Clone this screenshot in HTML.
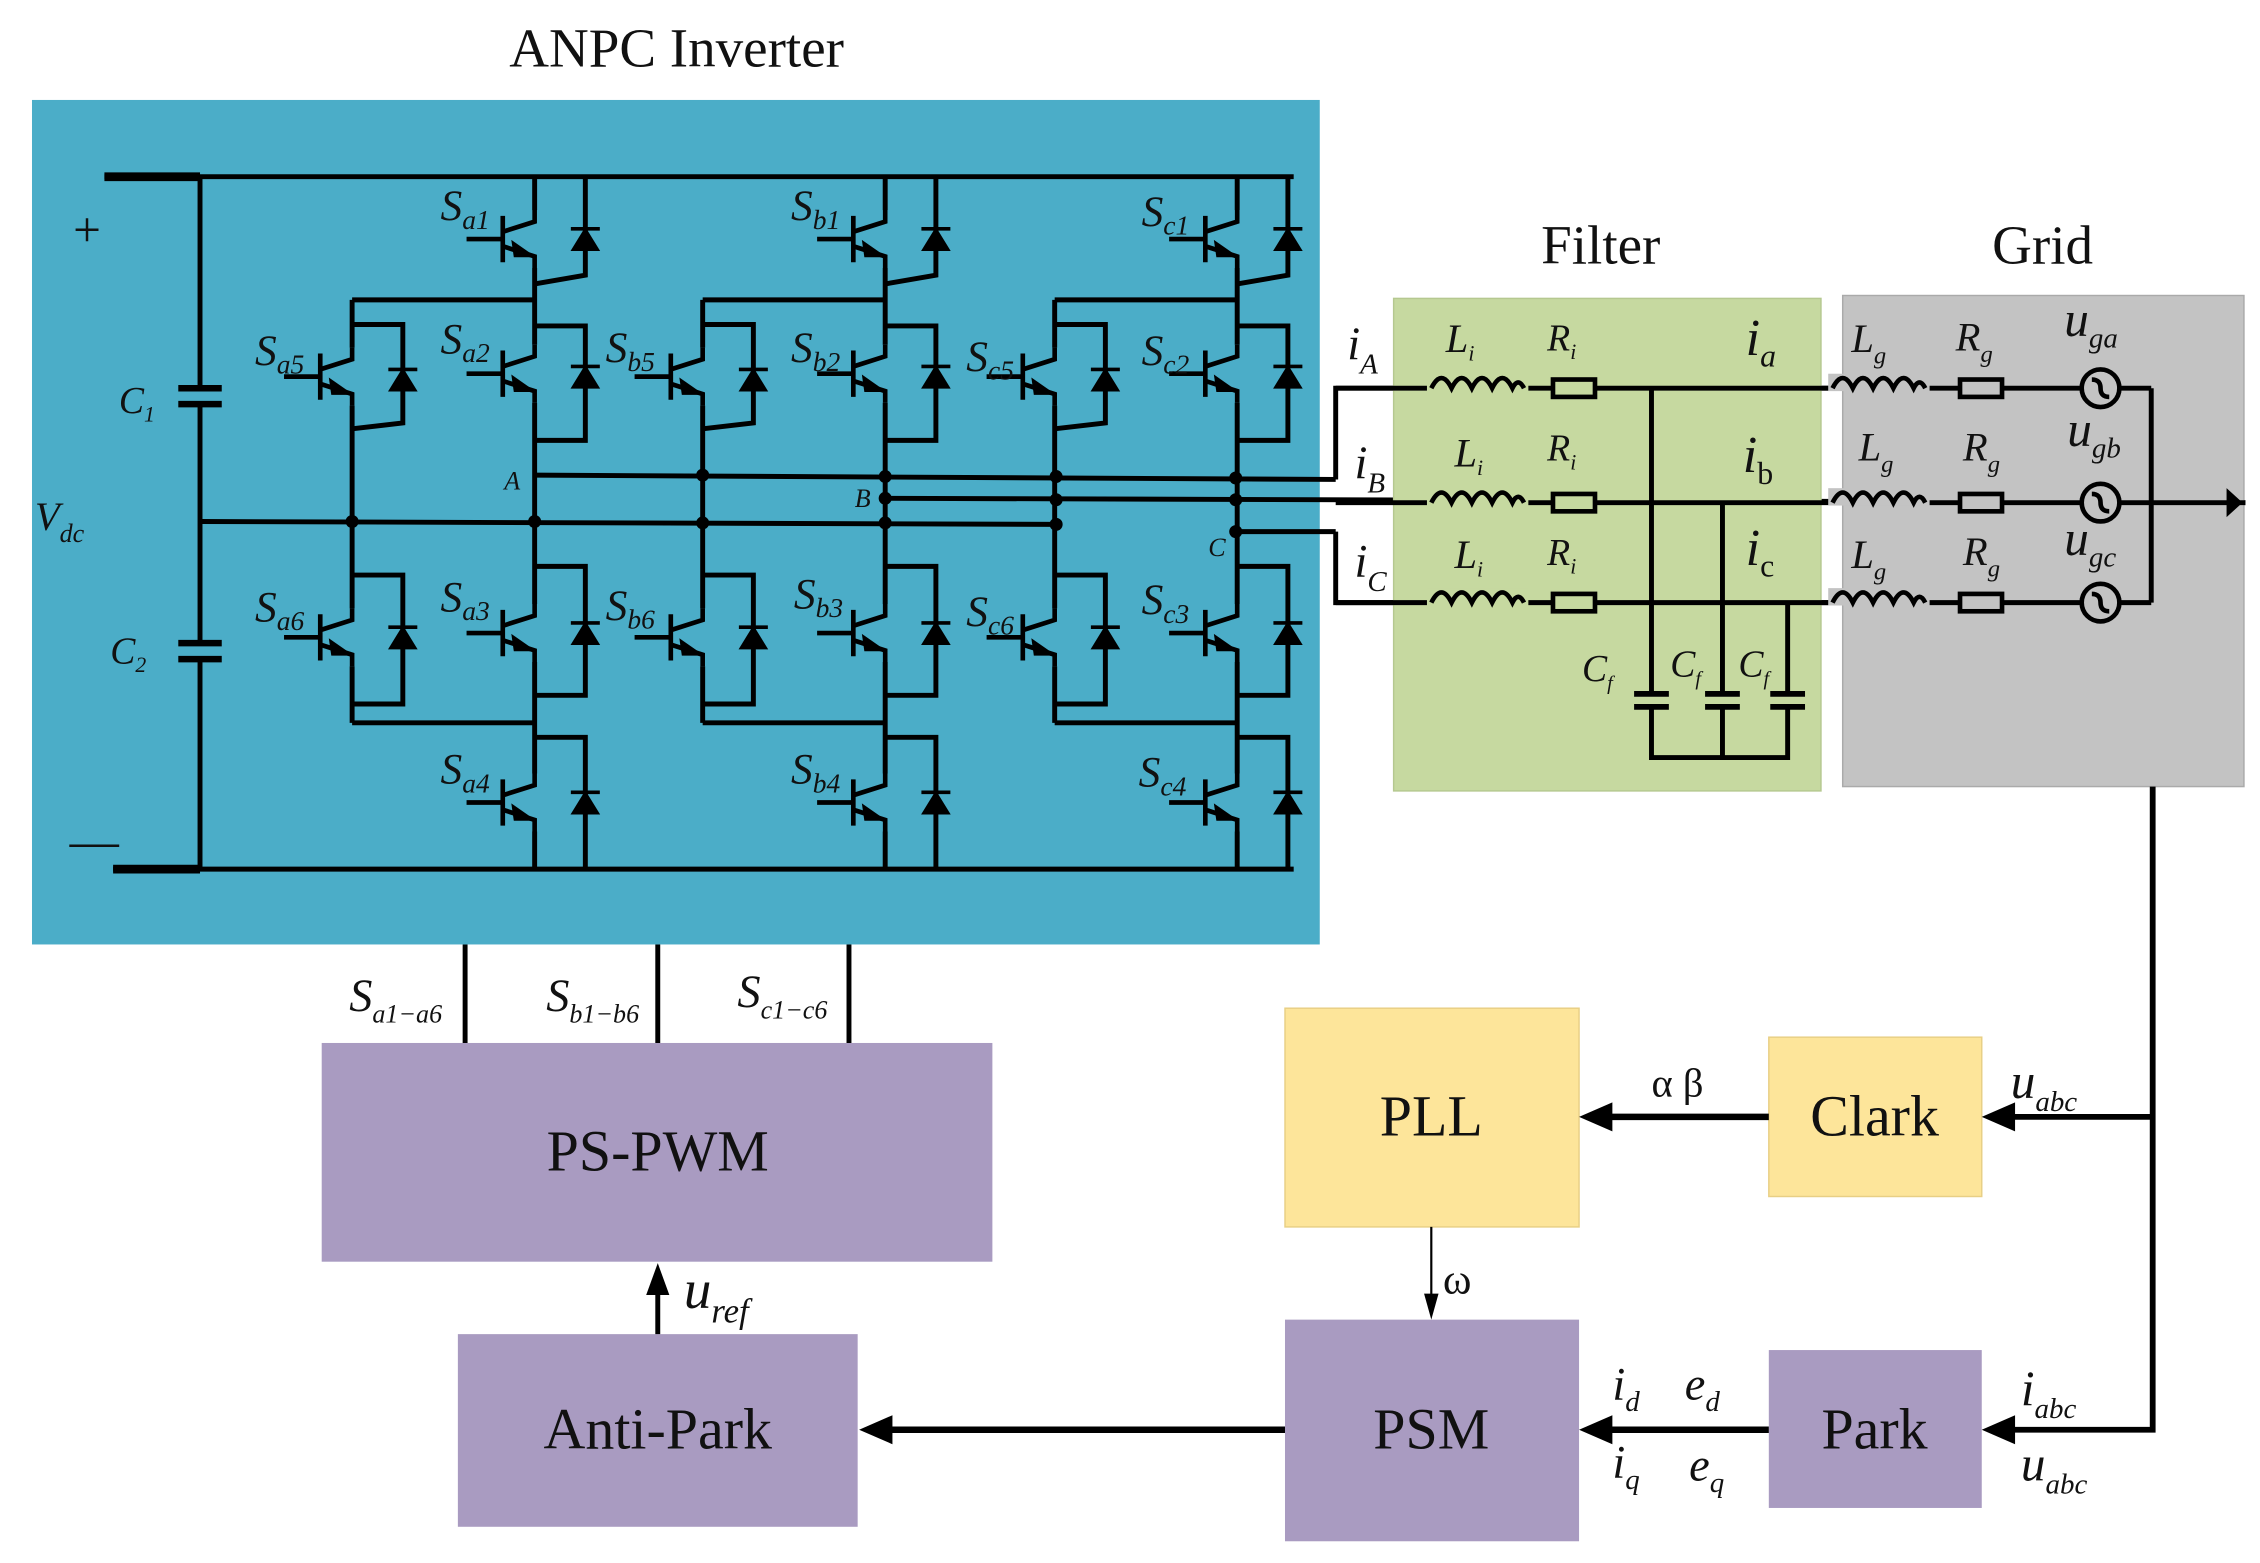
<!DOCTYPE html>
<html><head><meta charset="utf-8"><style>
html,body{margin:0;padding:0;background:#fff;}
svg{display:block;}
text{font-family:"Liberation Serif",serif;fill:#111;}
.i{font-style:italic;}
</style></head><body>
<svg width="2260" height="1563" viewBox="0 0 1560 1079" xmlns="http://www.w3.org/2000/svg">
<defs>
<g id="T" stroke="#000" stroke-width="3.2" fill="none">
  <line x1="-22" y1="-16" x2="-22" y2="16"/>
  <line x1="-47" y1="0" x2="-22" y2="0"/>
  <polyline points="0,-20 0,-12 -22,-5"/>
  <polyline points="-22,5 0,12 0,20"/>
  <polygon points="-4,11 -14,4 -13,11" fill="#000"/>
</g>
<g id="D" stroke="#000" stroke-width="2.5">
  <polygon points="-8,7 8,7 0,-6" fill="#000"/>
  <line x1="-10" y1="-7" x2="10" y2="-7"/>
</g>
<g id="PH" stroke="#000" stroke-width="3.4" fill="none">
  <!-- main leg -->
  <line x1="369" y1="122" x2="369" y2="145"/>
  <line x1="369" y1="185" x2="369" y2="238"/>
  <line x1="369" y1="278" x2="369" y2="417"/>
  <line x1="369" y1="457" x2="369" y2="534"/>
  <line x1="369" y1="574" x2="369" y2="599"/>
  <use href="#T" x="369" y="165"/>
  <use href="#T" x="369" y="258"/>
  <use href="#T" x="369" y="437"/>
  <use href="#T" x="369" y="554"/>
  <!-- diode 1 -->
  <polyline points="404,122 404,190 369,196"/>
  <use href="#D" x="404" y="165"/>
  <!-- diode 2 -->
  <polyline points="369,225 404,225 404,304 369,304"/>
  <use href="#D" x="404" y="260"/>
  <!-- diode 3 -->
  <polyline points="369,391 404,391 404,480 369,480"/>
  <use href="#D" x="404" y="437"/>
  <!-- diode 4 -->
  <polyline points="369,509 404,509 404,599"/>
  <use href="#D" x="404" y="554"/>
  <!-- clamp -->
  <line x1="243" y1="207" x2="369" y2="207"/>
  <line x1="243" y1="207" x2="243" y2="240"/>
  <line x1="243" y1="280" x2="243" y2="420"/>
  <line x1="243" y1="460" x2="243" y2="499"/>
  <line x1="243" y1="499" x2="369" y2="499"/>
  <use href="#T" x="243" y="260"/>
  <use href="#T" x="243" y="440"/>
  <polyline points="243,224 278,224 278,292 243,296"/>
  <use href="#D" x="278" y="262"/>
  <polyline points="243,397 278,397 278,486 243,486"/>
  <use href="#D" x="278" y="440"/>
</g>
</defs>

<text x="467" y="46" font-size="38" text-anchor="middle">ANPC Inverter</text>
<rect x="22" y="69" width="889" height="583" fill="#4badc8"/>

<g stroke="#000" stroke-width="3.4" fill="none">
  <line x1="72" y1="122" x2="893" y2="122"/>
  <line x1="72" y1="122" x2="138" y2="122" stroke-width="6"/>
  <line x1="78" y1="600" x2="893" y2="600"/>
  <line x1="78" y1="600" x2="138" y2="600" stroke-width="6"/>
  <line x1="138" y1="122" x2="138" y2="268"/>
  <line x1="138" y1="279" x2="138" y2="444"/>
  <line x1="138" y1="455" x2="138" y2="600"/>
  <line x1="123" y1="268" x2="153" y2="268" stroke-width="4.5"/>
  <line x1="123" y1="279" x2="153" y2="279" stroke-width="4.5"/>
  <line x1="123" y1="444" x2="153" y2="444" stroke-width="4.5"/>
  <line x1="123" y1="455" x2="153" y2="455" stroke-width="4.5"/>
  <line x1="138" y1="360" x2="729" y2="362"/>
  <line x1="369" y1="328" x2="922" y2="331"/>
  <line x1="611" y1="344" x2="1550" y2="347"/>
  <line x1="853" y1="367" x2="922" y2="367"/>
  <polyline points="922,331 922,268 1485,268"/>
  <polyline points="922,367 922,416 1485,416"/>
  <line x1="1485" y1="268" x2="1485" y2="416"/>
</g>
<use href="#PH"/>
<use href="#PH" x="242"/>
<use href="#PH" x="485"/>
<g fill="#000">
  <circle cx="243" cy="360" r="4.5"/><circle cx="369" cy="360" r="4.5"/><circle cx="485" cy="361" r="4.5"/><circle cx="611" cy="361" r="4.5"/><circle cx="729" cy="362" r="4.5"/>
  <circle cx="485" cy="328" r="4.5"/><circle cx="611" cy="329" r="4.5"/><circle cx="729" cy="329" r="4.5"/><circle cx="853" cy="330" r="4.5"/>
  <circle cx="611" cy="344" r="4.5"/><circle cx="729" cy="345" r="4.5"/><circle cx="853" cy="345" r="4.5"/>
  <circle cx="853" cy="367" r="4.5"/>
</g>
<text x="60" y="170" font-size="34" text-anchor="middle">+</text>
<text x="65" y="592" font-size="34" text-anchor="middle">—</text>
<text x="24" y="366" font-size="28" class="i">V<tspan font-size="18" dy="8">dc</tspan></text>
<text x="82" y="285" font-size="26" class="i">C<tspan font-size="15" dy="6">1</tspan></text>
<text x="76" y="458" font-size="26" class="i">C<tspan font-size="15" dy="6">2</tspan></text>
<g font-size="30" class="i">
<text x="304" y="152">S<tspan font-size="19" dy="6">a1</tspan></text>
<text x="546" y="152">S<tspan font-size="19" dy="6">b1</tspan></text>
<text x="788" y="156">S<tspan font-size="19" dy="6">c1</tspan></text>
<text x="304" y="244">S<tspan font-size="19" dy="6">a2</tspan></text>
<text x="546" y="250">S<tspan font-size="19" dy="6">b2</tspan></text>
<text x="788" y="252">S<tspan font-size="19" dy="6">c2</tspan></text>
<text x="176" y="252">S<tspan font-size="19" dy="6">a5</tspan></text>
<text x="418" y="250">S<tspan font-size="19" dy="6">b5</tspan></text>
<text x="667" y="256">S<tspan font-size="19" dy="6">c5</tspan></text>
<text x="176" y="429">S<tspan font-size="19" dy="6">a6</tspan></text>
<text x="418" y="428">S<tspan font-size="19" dy="6">b6</tspan></text>
<text x="667" y="432">S<tspan font-size="19" dy="6">c6</tspan></text>
<text x="304" y="422">S<tspan font-size="19" dy="6">a3</tspan></text>
<text x="548" y="420">S<tspan font-size="19" dy="6">b3</tspan></text>
<text x="788" y="424">S<tspan font-size="19" dy="6">c3</tspan></text>
<text x="304" y="541">S<tspan font-size="19" dy="6">a4</tspan></text>
<text x="546" y="541">S<tspan font-size="19" dy="6">b4</tspan></text>
<text x="786" y="543">S<tspan font-size="19" dy="6">c4</tspan></text>
</g>
<g font-size="18" class="i">
<text x="348" y="338">A</text><text x="590" y="350">B</text><text x="834" y="384">C</text>
</g>

<!-- Filter / Grid -->
<text x="1105" y="182" font-size="38" text-anchor="middle">Filter</text>
<text x="1410" y="182" font-size="38" text-anchor="middle">Grid</text>
<rect x="962" y="206" width="295" height="340" fill="#c6d9a0" stroke="#b5c890" stroke-width="1"/>
<rect x="1272" y="204" width="277" height="339" fill="#c3c3c3" stroke="#aaa" stroke-width="1"/>
<g stroke="#000" stroke-width="3.4" fill="none">
  <line x1="922" y1="268" x2="1485" y2="268"/>
  <line x1="922" y1="347" x2="1550" y2="347"/>
  <line x1="922" y1="416" x2="1485" y2="416"/>
  <line x1="1485" y1="268" x2="1485" y2="416"/>
  <line x1="1140" y1="268" x2="1140" y2="478"/>
  <line x1="1189" y1="347" x2="1189" y2="478"/>
  <line x1="1234" y1="416" x2="1234" y2="478"/>
  <polyline points="1140,488 1140,523 1234,523 1234,488"/>
  <line x1="1189" y1="488" x2="1189" y2="523"/>
</g>
<g stroke="#000" stroke-width="4">
  <line x1="1128" y1="479" x2="1152" y2="479"/><line x1="1128" y1="488" x2="1152" y2="488"/>
  <line x1="1177" y1="479" x2="1201" y2="479"/><line x1="1177" y1="488" x2="1201" y2="488"/>
  <line x1="1222" y1="479" x2="1246" y2="479"/><line x1="1222" y1="488" x2="1246" y2="488"/>
</g>
<polygon points="1537,337 1548,347 1537,357" fill="#000"/>
<g id="row">
<!-- inductors/resistors drawn per row below -->
</g>
<g stroke="#000" stroke-width="3.2" fill="none">
  <!-- row a -->
  <rect x="985" y="258" width="70" height="12" fill="#c6d9a0" stroke="none"/>
  <path d="M988,268 q7,-14 14,0 q7,-14 14,0 q7,-14 14,0 q7,-14 14,0 q4,-8 8,0"/>
  <rect x="1072" y="262" width="29" height="12" fill="#c6d9a0"/>
  <rect x="1262" y="258" width="70" height="12" fill="#c3c3c3" stroke="none"/>
  <path d="M1265,268 q7,-14 14,0 q7,-14 14,0 q7,-14 14,0 q7,-14 14,0 q4,-8 8,0"/>
  <rect x="1353" y="262" width="29" height="12" fill="#c3c3c3"/>
  <circle cx="1450" cy="268" r="13" fill="#c3c3c3"/>
  <path d="M1444,262 q6,0 6,6 q0,6 6,6"/>
  <!-- row b -->
  <rect x="985" y="337" width="70" height="12" fill="#c6d9a0" stroke="none"/>
  <path d="M988,347 q7,-14 14,0 q7,-14 14,0 q7,-14 14,0 q7,-14 14,0 q4,-8 8,0"/>
  <rect x="1072" y="341" width="29" height="12" fill="#c6d9a0"/>
  <rect x="1262" y="337" width="70" height="12" fill="#c3c3c3" stroke="none"/>
  <path d="M1265,347 q7,-14 14,0 q7,-14 14,0 q7,-14 14,0 q7,-14 14,0 q4,-8 8,0"/>
  <rect x="1353" y="341" width="29" height="12" fill="#c3c3c3"/>
  <circle cx="1450" cy="347" r="13" fill="#c3c3c3"/>
  <path d="M1444,341 q6,0 6,6 q0,6 6,6"/>
  <!-- row c -->
  <rect x="985" y="406" width="70" height="12" fill="#c6d9a0" stroke="none"/>
  <path d="M988,416 q7,-14 14,0 q7,-14 14,0 q7,-14 14,0 q7,-14 14,0 q4,-8 8,0"/>
  <rect x="1072" y="410" width="29" height="12" fill="#c6d9a0"/>
  <rect x="1262" y="406" width="70" height="12" fill="#c3c3c3" stroke="none"/>
  <path d="M1265,416 q7,-14 14,0 q7,-14 14,0 q7,-14 14,0 q7,-14 14,0 q4,-8 8,0"/>
  <rect x="1353" y="410" width="29" height="12" fill="#c3c3c3"/>
  <circle cx="1450" cy="416" r="13" fill="#c3c3c3"/>
  <path d="M1444,410 q6,0 6,6 q0,6 6,6"/>
</g>
<g class="i">
<text x="930" y="248" font-size="32">i<tspan font-size="20" dy="10">A</tspan></text>
<text x="935" y="330" font-size="32">i<tspan font-size="20" dy="10">B</tspan></text>
<text x="935" y="398" font-size="32">i<tspan font-size="20" dy="10">C</tspan></text>
<text x="998" y="243" font-size="28">L<tspan font-size="15" dy="6">i</tspan></text>
<text x="1004" y="322" font-size="28">L<tspan font-size="15" dy="6">i</tspan></text>
<text x="1004" y="392" font-size="28">L<tspan font-size="15" dy="6">i</tspan></text>
<text x="1068" y="242" font-size="26">R<tspan font-size="15" dy="6">i</tspan></text>
<text x="1068" y="318" font-size="26">R<tspan font-size="15" dy="6">i</tspan></text>
<text x="1068" y="390" font-size="26">R<tspan font-size="15" dy="6">i</tspan></text>
<text x="1205" y="245" font-size="36">i<tspan font-size="22" dy="8">a</tspan></text>
<text x="1203" y="326" font-size="36">i<tspan font-size="22" dy="8" font-style="normal">b</tspan></text>
<text x="1205" y="390" font-size="36">i<tspan font-size="22" dy="8" font-style="normal">c</tspan></text>
<text x="1278" y="243" font-size="28">L<tspan font-size="17" dy="8">g</tspan></text>
<text x="1283" y="318" font-size="28">L<tspan font-size="17" dy="8">g</tspan></text>
<text x="1278" y="392" font-size="28">L<tspan font-size="17" dy="8">g</tspan></text>
<text x="1350" y="242" font-size="28">R<tspan font-size="17" dy="8">g</tspan></text>
<text x="1355" y="318" font-size="28">R<tspan font-size="17" dy="8">g</tspan></text>
<text x="1355" y="390" font-size="28">R<tspan font-size="17" dy="8">g</tspan></text>
<text x="1425" y="232" font-size="34">u<tspan font-size="20" dy="8">ga</tspan></text>
<text x="1427" y="308" font-size="34">u<tspan font-size="20" dy="8">gb</tspan></text>
<text x="1425" y="383" font-size="34">u<tspan font-size="20" dy="8">gc</tspan></text>
<text x="1092" y="470" font-size="26">C<tspan font-size="14" dy="6">f</tspan></text>
<text x="1153" y="467" font-size="26">C<tspan font-size="14" dy="6">f</tspan></text>
<text x="1200" y="467" font-size="26">C<tspan font-size="14" dy="6">f</tspan></text>
</g>

<!-- Control -->
<rect x="222" y="720" width="463" height="151" fill="#a99bc1"/>
<rect x="316" y="921" width="276" height="133" fill="#a99bc1"/>
<rect x="887" y="696" width="203" height="151" fill="#fde59a" stroke="#e8cf85"/>
<rect x="1221" y="716" width="147" height="110" fill="#fde59a" stroke="#e8cf85"/>
<rect x="887" y="911" width="203" height="153" fill="#a99bc1"/>
<rect x="1221" y="932" width="147" height="109" fill="#a99bc1"/>
<g font-size="40" text-anchor="middle">
<text x="454" y="808">PS-PWM</text>
<text x="454" y="1000">Anti-Park</text>
<text x="988" y="784">PLL</text>
<text x="1294" y="784">Clark</text>
<text x="988" y="1000">PSM</text>
<text x="1294" y="1000">Park</text>
</g>
<g stroke="#000" stroke-width="3.4" fill="none">
  <line x1="321" y1="652" x2="321" y2="720"/>
  <line x1="454" y1="652" x2="454" y2="720"/>
  <line x1="586" y1="652" x2="586" y2="720"/>
  <line x1="454" y1="921" x2="454" y2="890"/>
  <line x1="887" y1="987" x2="612" y2="987" stroke-width="4.5"/>
  <line x1="1221" y1="987" x2="1110" y2="987" stroke-width="4.5"/>
  <line x1="1221" y1="771" x2="1110" y2="771" stroke-width="4.5"/>
  <polyline points="1486,543 1486,987 1388,987" stroke-width="4"/>
  <line x1="1486" y1="771" x2="1388" y2="771" stroke-width="4"/>
  <line x1="988" y1="847" x2="988" y2="895" stroke-width="1.5"/>
</g>
<g fill="#000">
  <polygon points="454,872 446,894 462,894"/>
  <polygon points="593,987 616,977 616,997"/>
  <polygon points="1090,987 1113,977 1113,997"/>
  <polygon points="1090,771 1113,761 1113,781"/>
  <polygon points="1368,771 1391,761 1391,781"/>
  <polygon points="1368,987 1391,977 1391,997"/>
  <polygon points="988,911 983,893 993,893"/>
</g>
<g class="i">
<text x="241" y="698" font-size="32">S<tspan font-size="18" dy="8">a1−a6</tspan></text>
<text x="377" y="698" font-size="32">S<tspan font-size="18" dy="8">b1−b6</tspan></text>
<text x="509" y="695" font-size="32">S<tspan font-size="18" dy="8">c1−c6</tspan></text>
<text x="472" y="903" font-size="38">u<tspan font-size="24" dy="10">ref</tspan></text>
<text x="1388" y="758" font-size="34">u<tspan font-size="20" dy="9">abc</tspan></text>
<text x="1395" y="970" font-size="34">i<tspan font-size="20" dy="9">abc</tspan></text>
<text x="1395" y="1022" font-size="34">u<tspan font-size="20" dy="9">abc</tspan></text>
<text x="1113" y="966" font-size="32">i<tspan font-size="20" dy="8">d</tspan></text>
<text x="1163" y="966" font-size="32">e<tspan font-size="20" dy="8">d</tspan></text>
<text x="1113" y="1020" font-size="32">i<tspan font-size="20" dy="8">q</tspan></text>
<text x="1166" y="1022" font-size="32">e<tspan font-size="20" dy="8">q</tspan></text>
</g>
<text x="1140" y="757" font-size="28">α β</text>
<text x="996" y="893" font-size="30">ω</text>
</svg>
</body></html>
